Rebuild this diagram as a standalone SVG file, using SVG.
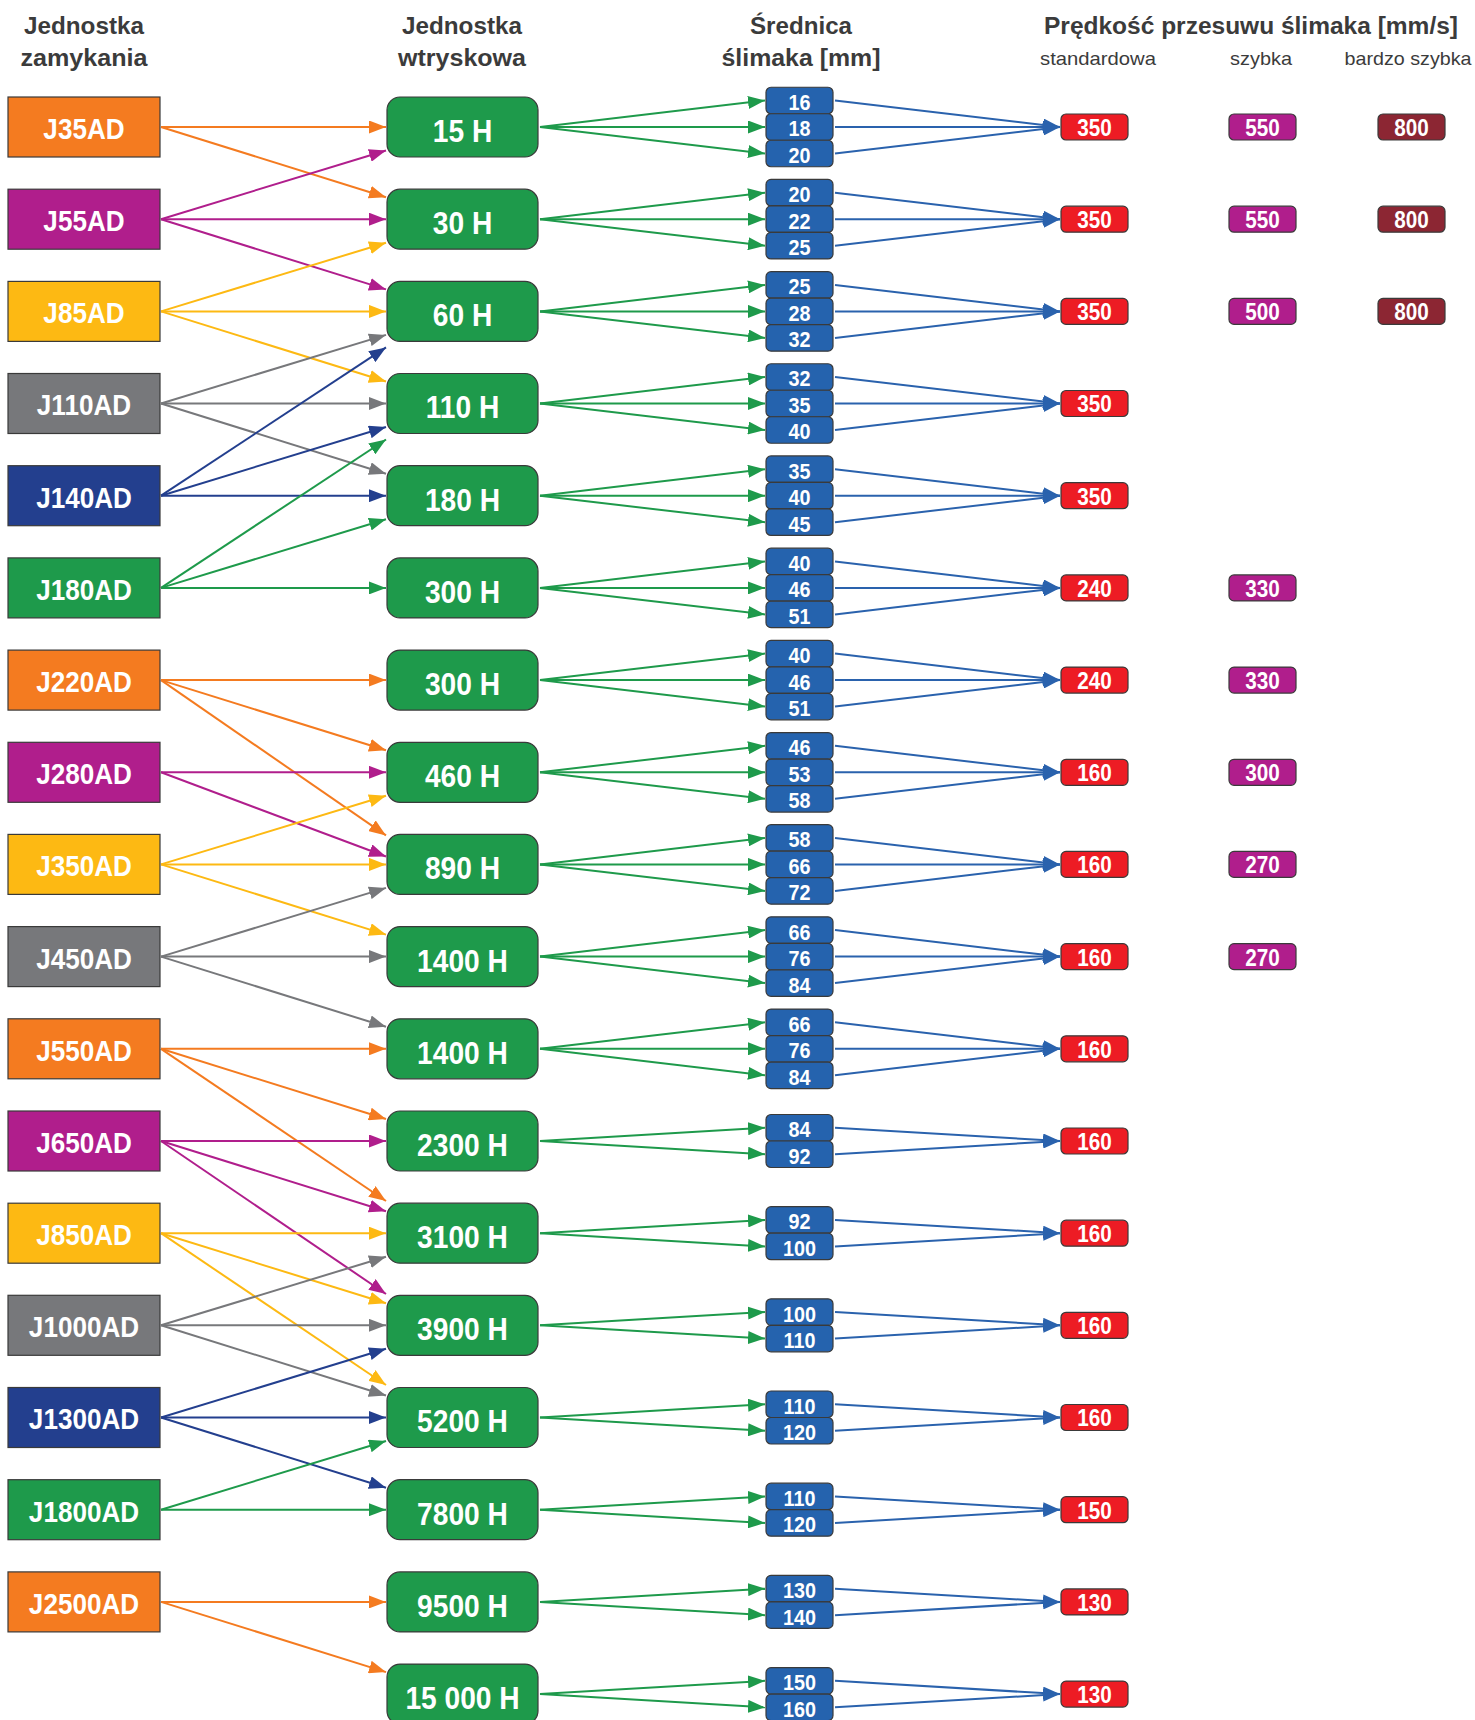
<svg xmlns="http://www.w3.org/2000/svg" width="1475" height="1720" viewBox="0 0 1475 1720">
<style>
.hd{font-family:"Liberation Sans",Arial,sans-serif;font-weight:700;font-size:23px;fill:#3b3b3b;text-anchor:middle}
.sh{font-family:"Liberation Sans",Arial,sans-serif;font-weight:400;font-size:19px;fill:#3b3b3b;text-anchor:middle}
.n text{font-family:"Liberation Sans",Arial,sans-serif;font-weight:700;fill:#fff;text-anchor:middle;transform-box:fill-box;transform-origin:center;transform:scaleX(.9)}
.n rect{stroke:#3a3a3a;stroke-width:1.2}
.ck text{font-size:29px}
.inj rect{fill:#1E9A4B}
.inj text{font-size:32px;transform:scaleX(.88)}
.sc rect{fill:#2563AE}
.sc text{font-size:22px}
.sp text{font-size:23px}
.or{fill:#F47B20}.mg{fill:#B01E8C}.ye{fill:#FDB913}.gy{fill:#77787B}.nv{fill:#233F8E}.gr{fill:#1E9A4B}
.rd{fill:#ED1C24}.pk{fill:#B01E8C}.br{fill:#8C2633}
#connectors line{stroke-width:2;fill:none}
.k-or line{stroke:#F47B20;marker-end:url(#a-or)}
.k-mg line{stroke:#B01E8C;marker-end:url(#a-mg)}
.k-ye line{stroke:#FDB913;marker-end:url(#a-ye)}
.k-gy line{stroke:#77787B;marker-end:url(#a-gy)}
.k-nv line{stroke:#233F8E;marker-end:url(#a-nv)}
.k-gr line{stroke:#1E9A4B;marker-end:url(#a-gr)}
.k-bl line{stroke:#2A62AD;marker-end:url(#a-bl)}
</style>
<defs>
<marker id="a-or" markerUnits="userSpaceOnUse" markerWidth="18" markerHeight="13" viewBox="0 0 18 13" refX="17" refY="6.5" orient="auto"><path d="M0,0 L17,6.5 L0,13 z" fill="#F47B20"/></marker>
<marker id="a-mg" markerUnits="userSpaceOnUse" markerWidth="18" markerHeight="13" viewBox="0 0 18 13" refX="17" refY="6.5" orient="auto"><path d="M0,0 L17,6.5 L0,13 z" fill="#B01E8C"/></marker>
<marker id="a-ye" markerUnits="userSpaceOnUse" markerWidth="18" markerHeight="13" viewBox="0 0 18 13" refX="17" refY="6.5" orient="auto"><path d="M0,0 L17,6.5 L0,13 z" fill="#FDB913"/></marker>
<marker id="a-gy" markerUnits="userSpaceOnUse" markerWidth="18" markerHeight="13" viewBox="0 0 18 13" refX="17" refY="6.5" orient="auto"><path d="M0,0 L17,6.5 L0,13 z" fill="#77787B"/></marker>
<marker id="a-nv" markerUnits="userSpaceOnUse" markerWidth="18" markerHeight="13" viewBox="0 0 18 13" refX="17" refY="6.5" orient="auto"><path d="M0,0 L17,6.5 L0,13 z" fill="#233F8E"/></marker>
<marker id="a-gr" markerUnits="userSpaceOnUse" markerWidth="18" markerHeight="13" viewBox="0 0 18 13" refX="17" refY="6.5" orient="auto"><path d="M0,0 L17,6.5 L0,13 z" fill="#1E9A4B"/></marker>
<marker id="a-bl" markerUnits="userSpaceOnUse" markerWidth="18" markerHeight="13" viewBox="0 0 18 13" refX="17" refY="6.5" orient="auto"><path d="M0,0 L17,6.5 L0,13 z" fill="#2A62AD"/></marker>
</defs>
<rect width="1475" height="1720" fill="#fff"/>

<g id="headers">
<text class="hd" x="84" y="34" textLength="120" lengthAdjust="spacingAndGlyphs">Jednostka</text>
<text class="hd" x="84" y="66" textLength="127" lengthAdjust="spacingAndGlyphs">zamykania</text>
<text class="hd" x="462" y="34" textLength="120" lengthAdjust="spacingAndGlyphs">Jednostka</text>
<text class="hd" x="462" y="66" textLength="128" lengthAdjust="spacingAndGlyphs">wtryskowa</text>
<text class="hd" x="801" y="34" textLength="102" lengthAdjust="spacingAndGlyphs">Średnica</text>
<text class="hd" x="801" y="66" textLength="159" lengthAdjust="spacingAndGlyphs">ślimaka [mm]</text>
<text class="hd" x="1251" y="34" textLength="414" lengthAdjust="spacingAndGlyphs">Prędkość przesuwu ślimaka [mm/s]</text>
<text class="sh" x="1098" y="65" textLength="116" lengthAdjust="spacingAndGlyphs">standardowa</text>
<text class="sh" x="1261" y="65" textLength="62" lengthAdjust="spacingAndGlyphs">szybka</text>
<text class="sh" x="1408" y="65" textLength="127" lengthAdjust="spacingAndGlyphs">bardzo szybka</text>
</g>

<g id="connectors">
<g class="k-or">
<line x1="161" y1="127" x2="386" y2="127"/>
<line x1="161" y1="127" x2="386" y2="197.2"/>
<line x1="161" y1="680.1" x2="386" y2="680.1"/>
<line x1="161" y1="680.1" x2="386" y2="750.3"/>
<line x1="161" y1="680.1" x2="386" y2="835.4"/>
<line x1="161" y1="1048.8" x2="386" y2="1048.8"/>
<line x1="161" y1="1048.8" x2="386" y2="1119"/>
<line x1="161" y1="1048.8" x2="386" y2="1201"/>
<line x1="161" y1="1601.9" x2="386" y2="1601.9"/>
<line x1="161" y1="1601.9" x2="386" y2="1672.1"/>
</g>
<g class="k-mg">
<line x1="161" y1="219.2" x2="386" y2="150.5"/>
<line x1="161" y1="219.2" x2="386" y2="219.2"/>
<line x1="161" y1="219.2" x2="386" y2="289.4"/>
<line x1="161" y1="772.3" x2="386" y2="772.3"/>
<line x1="161" y1="772.3" x2="386" y2="856.5"/>
<line x1="161" y1="1141" x2="386" y2="1141"/>
<line x1="161" y1="1141" x2="386" y2="1211.2"/>
<line x1="161" y1="1141" x2="386" y2="1294"/>
</g>
<g class="k-ye">
<line x1="161" y1="311.4" x2="386" y2="242.7"/>
<line x1="161" y1="311.4" x2="386" y2="311.4"/>
<line x1="161" y1="311.4" x2="386" y2="381.5"/>
<line x1="161" y1="864.4" x2="386" y2="795.8"/>
<line x1="161" y1="864.4" x2="386" y2="864.4"/>
<line x1="161" y1="864.4" x2="386" y2="934.6"/>
<line x1="161" y1="1233.2" x2="386" y2="1233.2"/>
<line x1="161" y1="1233.2" x2="386" y2="1303.3"/>
<line x1="161" y1="1233.2" x2="386" y2="1385"/>
</g>
<g class="k-gy">
<line x1="161" y1="403.5" x2="386" y2="334.9"/>
<line x1="161" y1="403.5" x2="386" y2="403.5"/>
<line x1="161" y1="403.5" x2="386" y2="473.7"/>
<line x1="161" y1="956.6" x2="386" y2="887.9"/>
<line x1="161" y1="956.6" x2="386" y2="956.6"/>
<line x1="161" y1="956.6" x2="386" y2="1026.8"/>
<line x1="161" y1="1325.3" x2="386" y2="1256.7"/>
<line x1="161" y1="1325.3" x2="386" y2="1325.3"/>
<line x1="161" y1="1325.3" x2="386" y2="1395.5"/>
</g>
<g class="k-nv">
<line x1="161" y1="495.7" x2="386" y2="347.4"/>
<line x1="161" y1="495.7" x2="386" y2="427"/>
<line x1="161" y1="495.7" x2="386" y2="495.7"/>
<line x1="161" y1="1417.5" x2="386" y2="1348.8"/>
<line x1="161" y1="1417.5" x2="386" y2="1417.5"/>
<line x1="161" y1="1417.5" x2="386" y2="1487.7"/>
</g>
<g class="k-gr">
<line x1="161" y1="587.9" x2="386" y2="439.5"/>
<line x1="161" y1="587.9" x2="386" y2="519.2"/>
<line x1="161" y1="587.9" x2="386" y2="587.9"/>
<line x1="161" y1="1509.7" x2="386" y2="1441"/>
<line x1="161" y1="1509.7" x2="386" y2="1509.7"/>
<line x1="540" y1="127" x2="765" y2="100.5"/><line x1="540" y1="127" x2="765" y2="127"/><line x1="540" y1="127" x2="765" y2="153.5"/>
<line x1="540" y1="219.2" x2="765" y2="192.7"/><line x1="540" y1="219.2" x2="765" y2="219.2"/><line x1="540" y1="219.2" x2="765" y2="245.7"/>
<line x1="540" y1="311.4" x2="765" y2="284.9"/><line x1="540" y1="311.4" x2="765" y2="311.4"/><line x1="540" y1="311.4" x2="765" y2="337.9"/>
<line x1="540" y1="403.5" x2="765" y2="377"/><line x1="540" y1="403.5" x2="765" y2="403.5"/><line x1="540" y1="403.5" x2="765" y2="430"/>
<line x1="540" y1="495.7" x2="765" y2="469.2"/><line x1="540" y1="495.7" x2="765" y2="495.7"/><line x1="540" y1="495.7" x2="765" y2="522.2"/>
<line x1="540" y1="587.9" x2="765" y2="561.4"/><line x1="540" y1="587.9" x2="765" y2="587.9"/><line x1="540" y1="587.9" x2="765" y2="614.4"/>
<line x1="540" y1="680.1" x2="765" y2="653.6"/><line x1="540" y1="680.1" x2="765" y2="680.1"/><line x1="540" y1="680.1" x2="765" y2="706.6"/>
<line x1="540" y1="772.3" x2="765" y2="745.8"/><line x1="540" y1="772.3" x2="765" y2="772.3"/><line x1="540" y1="772.3" x2="765" y2="798.8"/>
<line x1="540" y1="864.4" x2="765" y2="837.9"/><line x1="540" y1="864.4" x2="765" y2="864.4"/><line x1="540" y1="864.4" x2="765" y2="890.9"/>
<line x1="540" y1="956.6" x2="765" y2="930.1"/><line x1="540" y1="956.6" x2="765" y2="956.6"/><line x1="540" y1="956.6" x2="765" y2="983.1"/>
<line x1="540" y1="1048.8" x2="765" y2="1022.3"/><line x1="540" y1="1048.8" x2="765" y2="1048.8"/><line x1="540" y1="1048.8" x2="765" y2="1075.3"/>
<line x1="540" y1="1141" x2="765" y2="1127.75"/><line x1="540" y1="1141" x2="765" y2="1154.25"/>
<line x1="540" y1="1233.2" x2="765" y2="1219.95"/><line x1="540" y1="1233.2" x2="765" y2="1246.45"/>
<line x1="540" y1="1325.3" x2="765" y2="1312.05"/><line x1="540" y1="1325.3" x2="765" y2="1338.55"/>
<line x1="540" y1="1417.5" x2="765" y2="1404.25"/><line x1="540" y1="1417.5" x2="765" y2="1430.75"/>
<line x1="540" y1="1509.7" x2="765" y2="1496.45"/><line x1="540" y1="1509.7" x2="765" y2="1522.95"/>
<line x1="540" y1="1601.9" x2="765" y2="1588.65"/><line x1="540" y1="1601.9" x2="765" y2="1615.15"/>
<line x1="540" y1="1694.1" x2="765" y2="1680.85"/><line x1="540" y1="1694.1" x2="765" y2="1707.35"/>
</g>
<g class="k-bl">
<line x1="835" y1="100.5" x2="1060" y2="127"/><line x1="835" y1="127" x2="1060" y2="127"/><line x1="835" y1="153.5" x2="1060" y2="127"/>
<line x1="835" y1="192.7" x2="1060" y2="219.2"/><line x1="835" y1="219.2" x2="1060" y2="219.2"/><line x1="835" y1="245.7" x2="1060" y2="219.2"/>
<line x1="835" y1="284.9" x2="1060" y2="311.4"/><line x1="835" y1="311.4" x2="1060" y2="311.4"/><line x1="835" y1="337.9" x2="1060" y2="311.4"/>
<line x1="835" y1="377" x2="1060" y2="403.5"/><line x1="835" y1="403.5" x2="1060" y2="403.5"/><line x1="835" y1="430" x2="1060" y2="403.5"/>
<line x1="835" y1="469.2" x2="1060" y2="495.7"/><line x1="835" y1="495.7" x2="1060" y2="495.7"/><line x1="835" y1="522.2" x2="1060" y2="495.7"/>
<line x1="835" y1="561.4" x2="1060" y2="587.9"/><line x1="835" y1="587.9" x2="1060" y2="587.9"/><line x1="835" y1="614.4" x2="1060" y2="587.9"/>
<line x1="835" y1="653.6" x2="1060" y2="680.1"/><line x1="835" y1="680.1" x2="1060" y2="680.1"/><line x1="835" y1="706.6" x2="1060" y2="680.1"/>
<line x1="835" y1="745.8" x2="1060" y2="772.3"/><line x1="835" y1="772.3" x2="1060" y2="772.3"/><line x1="835" y1="798.8" x2="1060" y2="772.3"/>
<line x1="835" y1="837.9" x2="1060" y2="864.4"/><line x1="835" y1="864.4" x2="1060" y2="864.4"/><line x1="835" y1="890.9" x2="1060" y2="864.4"/>
<line x1="835" y1="930.1" x2="1060" y2="956.6"/><line x1="835" y1="956.6" x2="1060" y2="956.6"/><line x1="835" y1="983.1" x2="1060" y2="956.6"/>
<line x1="835" y1="1022.3" x2="1060" y2="1048.8"/><line x1="835" y1="1048.8" x2="1060" y2="1048.8"/><line x1="835" y1="1075.3" x2="1060" y2="1048.8"/>
<line x1="835" y1="1127.75" x2="1060" y2="1141"/><line x1="835" y1="1154.25" x2="1060" y2="1141"/>
<line x1="835" y1="1219.95" x2="1060" y2="1233.2"/><line x1="835" y1="1246.45" x2="1060" y2="1233.2"/>
<line x1="835" y1="1312.05" x2="1060" y2="1325.3"/><line x1="835" y1="1338.55" x2="1060" y2="1325.3"/>
<line x1="835" y1="1404.25" x2="1060" y2="1417.5"/><line x1="835" y1="1430.75" x2="1060" y2="1417.5"/>
<line x1="835" y1="1496.45" x2="1060" y2="1509.7"/><line x1="835" y1="1522.95" x2="1060" y2="1509.7"/>
<line x1="835" y1="1588.65" x2="1060" y2="1601.9"/><line x1="835" y1="1615.15" x2="1060" y2="1601.9"/>
<line x1="835" y1="1680.85" x2="1060" y2="1694.1"/><line x1="835" y1="1707.35" x2="1060" y2="1694.1"/>
</g>
</g>

<g id="clamping">
<g id="J35AD" class="n ck"><rect class="or" x="8" y="97" width="152" height="60"/><text x="84" y="139">J35AD</text></g>
<g id="J55AD" class="n ck"><rect class="mg" x="8" y="189.2" width="152" height="60"/><text x="84" y="231.2">J55AD</text></g>
<g id="J85AD" class="n ck"><rect class="ye" x="8" y="281.4" width="152" height="60"/><text x="84" y="323.4">J85AD</text></g>
<g id="J110AD" class="n ck"><rect class="gy" x="8" y="373.5" width="152" height="60"/><text x="84" y="415.5">J110AD</text></g>
<g id="J140AD" class="n ck"><rect class="nv" x="8" y="465.7" width="152" height="60"/><text x="84" y="507.7">J140AD</text></g>
<g id="J180AD" class="n ck"><rect class="gr" x="8" y="557.9" width="152" height="60"/><text x="84" y="599.9">J180AD</text></g>
<g id="J220AD" class="n ck"><rect class="or" x="8" y="650.1" width="152" height="60"/><text x="84" y="692.1">J220AD</text></g>
<g id="J280AD" class="n ck"><rect class="mg" x="8" y="742.3" width="152" height="60"/><text x="84" y="784.3">J280AD</text></g>
<g id="J350AD" class="n ck"><rect class="ye" x="8" y="834.4" width="152" height="60"/><text x="84" y="876.4">J350AD</text></g>
<g id="J450AD" class="n ck"><rect class="gy" x="8" y="926.6" width="152" height="60"/><text x="84" y="968.6">J450AD</text></g>
<g id="J550AD" class="n ck"><rect class="or" x="8" y="1018.8" width="152" height="60"/><text x="84" y="1060.8">J550AD</text></g>
<g id="J650AD" class="n ck"><rect class="mg" x="8" y="1111" width="152" height="60"/><text x="84" y="1153">J650AD</text></g>
<g id="J850AD" class="n ck"><rect class="ye" x="8" y="1203.2" width="152" height="60"/><text x="84" y="1245.2">J850AD</text></g>
<g id="J1000AD" class="n ck"><rect class="gy" x="8" y="1295.3" width="152" height="60"/><text x="84" y="1337.3">J1000AD</text></g>
<g id="J1300AD" class="n ck"><rect class="nv" x="8" y="1387.5" width="152" height="60"/><text x="84" y="1429.5">J1300AD</text></g>
<g id="J1800AD" class="n ck"><rect class="gr" x="8" y="1479.7" width="152" height="60"/><text x="84" y="1521.7">J1800AD</text></g>
<g id="J2500AD" class="n ck"><rect class="or" x="8" y="1571.9" width="152" height="60"/><text x="84" y="1613.9">J2500AD</text></g>
</g>

<g id="injection">
<g id="inj-15H" class="n inj"><rect x="387" y="97" width="151" height="60" rx="13"/><text x="462.5" y="142">15 H</text></g>
<g id="inj-30H" class="n inj"><rect x="387" y="189.2" width="151" height="60" rx="13"/><text x="462.5" y="234.2">30 H</text></g>
<g id="inj-60H" class="n inj"><rect x="387" y="281.4" width="151" height="60" rx="13"/><text x="462.5" y="326.4">60 H</text></g>
<g id="inj-110H" class="n inj"><rect x="387" y="373.5" width="151" height="60" rx="13"/><text x="462.5" y="418.5">110 H</text></g>
<g id="inj-180H" class="n inj"><rect x="387" y="465.7" width="151" height="60" rx="13"/><text x="462.5" y="510.7">180 H</text></g>
<g id="inj-300H-a" class="n inj"><rect x="387" y="557.9" width="151" height="60" rx="13"/><text x="462.5" y="602.9">300 H</text></g>
<g id="inj-300H-b" class="n inj"><rect x="387" y="650.1" width="151" height="60" rx="13"/><text x="462.5" y="695.1">300 H</text></g>
<g id="inj-460H" class="n inj"><rect x="387" y="742.3" width="151" height="60" rx="13"/><text x="462.5" y="787.3">460 H</text></g>
<g id="inj-890H" class="n inj"><rect x="387" y="834.4" width="151" height="60" rx="13"/><text x="462.5" y="879.4">890 H</text></g>
<g id="inj-1400H-a" class="n inj"><rect x="387" y="926.6" width="151" height="60" rx="13"/><text x="462.5" y="971.6">1400 H</text></g>
<g id="inj-1400H-b" class="n inj"><rect x="387" y="1018.8" width="151" height="60" rx="13"/><text x="462.5" y="1063.8">1400 H</text></g>
<g id="inj-2300H" class="n inj"><rect x="387" y="1111" width="151" height="60" rx="13"/><text x="462.5" y="1156">2300 H</text></g>
<g id="inj-3100H" class="n inj"><rect x="387" y="1203.2" width="151" height="60" rx="13"/><text x="462.5" y="1248.2">3100 H</text></g>
<g id="inj-3900H" class="n inj"><rect x="387" y="1295.3" width="151" height="60" rx="13"/><text x="462.5" y="1340.3">3900 H</text></g>
<g id="inj-5200H" class="n inj"><rect x="387" y="1387.5" width="151" height="60" rx="13"/><text x="462.5" y="1432.5">5200 H</text></g>
<g id="inj-7800H" class="n inj"><rect x="387" y="1479.7" width="151" height="60" rx="13"/><text x="462.5" y="1524.7">7800 H</text></g>
<g id="inj-9500H" class="n inj"><rect x="387" y="1571.9" width="151" height="60" rx="13"/><text x="462.5" y="1616.9">9500 H</text></g>
<g id="inj-15000H" class="n inj"><rect x="387" y="1664.1" width="151" height="60" rx="13"/><text x="462.5" y="1709.1">15 000 H</text></g>
</g>

<g id="screws">
<g id="s0-16" class="n sc"><rect x="766" y="87.25" width="67" height="26.5" rx="5"/><text x="799.5" y="110">16</text></g>
<g id="s0-18" class="n sc"><rect x="766" y="113.75" width="67" height="26.5" rx="5"/><text x="799.5" y="136.5">18</text></g>
<g id="s0-20" class="n sc"><rect x="766" y="140.25" width="67" height="26.5" rx="5"/><text x="799.5" y="163">20</text></g>
<g id="s1-20" class="n sc"><rect x="766" y="179.45" width="67" height="26.5" rx="5"/><text x="799.5" y="202.2">20</text></g>
<g id="s1-22" class="n sc"><rect x="766" y="205.95" width="67" height="26.5" rx="5"/><text x="799.5" y="228.7">22</text></g>
<g id="s1-25" class="n sc"><rect x="766" y="232.45" width="67" height="26.5" rx="5"/><text x="799.5" y="255.2">25</text></g>
<g id="s2-25" class="n sc"><rect x="766" y="271.65" width="67" height="26.5" rx="5"/><text x="799.5" y="294.4">25</text></g>
<g id="s2-28" class="n sc"><rect x="766" y="298.15" width="67" height="26.5" rx="5"/><text x="799.5" y="320.9">28</text></g>
<g id="s2-32" class="n sc"><rect x="766" y="324.65" width="67" height="26.5" rx="5"/><text x="799.5" y="347.4">32</text></g>
<g id="s3-32" class="n sc"><rect x="766" y="363.75" width="67" height="26.5" rx="5"/><text x="799.5" y="386.5">32</text></g>
<g id="s3-35" class="n sc"><rect x="766" y="390.25" width="67" height="26.5" rx="5"/><text x="799.5" y="413">35</text></g>
<g id="s3-40" class="n sc"><rect x="766" y="416.75" width="67" height="26.5" rx="5"/><text x="799.5" y="439.5">40</text></g>
<g id="s4-35" class="n sc"><rect x="766" y="455.95" width="67" height="26.5" rx="5"/><text x="799.5" y="478.7">35</text></g>
<g id="s4-40" class="n sc"><rect x="766" y="482.45" width="67" height="26.5" rx="5"/><text x="799.5" y="505.2">40</text></g>
<g id="s4-45" class="n sc"><rect x="766" y="508.95" width="67" height="26.5" rx="5"/><text x="799.5" y="531.7">45</text></g>
<g id="s5-40" class="n sc"><rect x="766" y="548.15" width="67" height="26.5" rx="5"/><text x="799.5" y="570.9">40</text></g>
<g id="s5-46" class="n sc"><rect x="766" y="574.65" width="67" height="26.5" rx="5"/><text x="799.5" y="597.4">46</text></g>
<g id="s5-51" class="n sc"><rect x="766" y="601.15" width="67" height="26.5" rx="5"/><text x="799.5" y="623.9">51</text></g>
<g id="s6-40" class="n sc"><rect x="766" y="640.35" width="67" height="26.5" rx="5"/><text x="799.5" y="663.1">40</text></g>
<g id="s6-46" class="n sc"><rect x="766" y="666.85" width="67" height="26.5" rx="5"/><text x="799.5" y="689.6">46</text></g>
<g id="s6-51" class="n sc"><rect x="766" y="693.35" width="67" height="26.5" rx="5"/><text x="799.5" y="716.1">51</text></g>
<g id="s7-46" class="n sc"><rect x="766" y="732.55" width="67" height="26.5" rx="5"/><text x="799.5" y="755.3">46</text></g>
<g id="s7-53" class="n sc"><rect x="766" y="759.05" width="67" height="26.5" rx="5"/><text x="799.5" y="781.8">53</text></g>
<g id="s7-58" class="n sc"><rect x="766" y="785.55" width="67" height="26.5" rx="5"/><text x="799.5" y="808.3">58</text></g>
<g id="s8-58" class="n sc"><rect x="766" y="824.65" width="67" height="26.5" rx="5"/><text x="799.5" y="847.4">58</text></g>
<g id="s8-66" class="n sc"><rect x="766" y="851.15" width="67" height="26.5" rx="5"/><text x="799.5" y="873.9">66</text></g>
<g id="s8-72" class="n sc"><rect x="766" y="877.65" width="67" height="26.5" rx="5"/><text x="799.5" y="900.4">72</text></g>
<g id="s9-66" class="n sc"><rect x="766" y="916.85" width="67" height="26.5" rx="5"/><text x="799.5" y="939.6">66</text></g>
<g id="s9-76" class="n sc"><rect x="766" y="943.35" width="67" height="26.5" rx="5"/><text x="799.5" y="966.1">76</text></g>
<g id="s9-84" class="n sc"><rect x="766" y="969.85" width="67" height="26.5" rx="5"/><text x="799.5" y="992.6">84</text></g>
<g id="s10-66" class="n sc"><rect x="766" y="1009.05" width="67" height="26.5" rx="5"/><text x="799.5" y="1031.8">66</text></g>
<g id="s10-76" class="n sc"><rect x="766" y="1035.55" width="67" height="26.5" rx="5"/><text x="799.5" y="1058.3">76</text></g>
<g id="s10-84" class="n sc"><rect x="766" y="1062.05" width="67" height="26.5" rx="5"/><text x="799.5" y="1084.8">84</text></g>
<g id="s11-84" class="n sc"><rect x="766" y="1114.5" width="67" height="26.5" rx="5"/><text x="799.5" y="1137.25">84</text></g>
<g id="s11-92" class="n sc"><rect x="766" y="1141" width="67" height="26.5" rx="5"/><text x="799.5" y="1163.75">92</text></g>
<g id="s12-92" class="n sc"><rect x="766" y="1206.7" width="67" height="26.5" rx="5"/><text x="799.5" y="1229.45">92</text></g>
<g id="s12-100" class="n sc"><rect x="766" y="1233.2" width="67" height="26.5" rx="5"/><text x="799.5" y="1255.95">100</text></g>
<g id="s13-100" class="n sc"><rect x="766" y="1298.8" width="67" height="26.5" rx="5"/><text x="799.5" y="1321.55">100</text></g>
<g id="s13-110" class="n sc"><rect x="766" y="1325.3" width="67" height="26.5" rx="5"/><text x="799.5" y="1348.05">110</text></g>
<g id="s14-110" class="n sc"><rect x="766" y="1391" width="67" height="26.5" rx="5"/><text x="799.5" y="1413.75">110</text></g>
<g id="s14-120" class="n sc"><rect x="766" y="1417.5" width="67" height="26.5" rx="5"/><text x="799.5" y="1440.25">120</text></g>
<g id="s15-110" class="n sc"><rect x="766" y="1483.2" width="67" height="26.5" rx="5"/><text x="799.5" y="1505.95">110</text></g>
<g id="s15-120" class="n sc"><rect x="766" y="1509.7" width="67" height="26.5" rx="5"/><text x="799.5" y="1532.45">120</text></g>
<g id="s16-130" class="n sc"><rect x="766" y="1575.4" width="67" height="26.5" rx="5"/><text x="799.5" y="1598.15">130</text></g>
<g id="s16-140" class="n sc"><rect x="766" y="1601.9" width="67" height="26.5" rx="5"/><text x="799.5" y="1624.65">140</text></g>
<g id="s17-150" class="n sc"><rect x="766" y="1667.6" width="67" height="26.5" rx="5"/><text x="799.5" y="1690.35">150</text></g>
<g id="s17-160" class="n sc"><rect x="766" y="1694.1" width="67" height="26.5" rx="5"/><text x="799.5" y="1716.85">160</text></g>
</g>

<g id="speeds">
<g id="v0-std" class="n sp"><rect class="rd" x="1061" y="114" width="67" height="26" rx="5"/><text x="1094.5" y="136">350</text></g>
<g id="v0-fast" class="n sp"><rect class="pk" x="1229" y="114" width="67" height="26" rx="5"/><text x="1262.5" y="136">550</text></g>
<g id="v0-vfast" class="n sp"><rect class="br" x="1378" y="114" width="67" height="26" rx="5"/><text x="1411.5" y="136">800</text></g>
<g id="v1-std" class="n sp"><rect class="rd" x="1061" y="206.2" width="67" height="26" rx="5"/><text x="1094.5" y="228.2">350</text></g>
<g id="v1-fast" class="n sp"><rect class="pk" x="1229" y="206.2" width="67" height="26" rx="5"/><text x="1262.5" y="228.2">550</text></g>
<g id="v1-vfast" class="n sp"><rect class="br" x="1378" y="206.2" width="67" height="26" rx="5"/><text x="1411.5" y="228.2">800</text></g>
<g id="v2-std" class="n sp"><rect class="rd" x="1061" y="298.4" width="67" height="26" rx="5"/><text x="1094.5" y="320.4">350</text></g>
<g id="v2-fast" class="n sp"><rect class="pk" x="1229" y="298.4" width="67" height="26" rx="5"/><text x="1262.5" y="320.4">500</text></g>
<g id="v2-vfast" class="n sp"><rect class="br" x="1378" y="298.4" width="67" height="26" rx="5"/><text x="1411.5" y="320.4">800</text></g>
<g id="v3-std" class="n sp"><rect class="rd" x="1061" y="390.5" width="67" height="26" rx="5"/><text x="1094.5" y="412.5">350</text></g>
<g id="v4-std" class="n sp"><rect class="rd" x="1061" y="482.7" width="67" height="26" rx="5"/><text x="1094.5" y="504.7">350</text></g>
<g id="v5-std" class="n sp"><rect class="rd" x="1061" y="574.9" width="67" height="26" rx="5"/><text x="1094.5" y="596.9">240</text></g>
<g id="v5-fast" class="n sp"><rect class="pk" x="1229" y="574.9" width="67" height="26" rx="5"/><text x="1262.5" y="596.9">330</text></g>
<g id="v6-std" class="n sp"><rect class="rd" x="1061" y="667.1" width="67" height="26" rx="5"/><text x="1094.5" y="689.1">240</text></g>
<g id="v6-fast" class="n sp"><rect class="pk" x="1229" y="667.1" width="67" height="26" rx="5"/><text x="1262.5" y="689.1">330</text></g>
<g id="v7-std" class="n sp"><rect class="rd" x="1061" y="759.3" width="67" height="26" rx="5"/><text x="1094.5" y="781.3">160</text></g>
<g id="v7-fast" class="n sp"><rect class="pk" x="1229" y="759.3" width="67" height="26" rx="5"/><text x="1262.5" y="781.3">300</text></g>
<g id="v8-std" class="n sp"><rect class="rd" x="1061" y="851.4" width="67" height="26" rx="5"/><text x="1094.5" y="873.4">160</text></g>
<g id="v8-fast" class="n sp"><rect class="pk" x="1229" y="851.4" width="67" height="26" rx="5"/><text x="1262.5" y="873.4">270</text></g>
<g id="v9-std" class="n sp"><rect class="rd" x="1061" y="943.6" width="67" height="26" rx="5"/><text x="1094.5" y="965.6">160</text></g>
<g id="v9-fast" class="n sp"><rect class="pk" x="1229" y="943.6" width="67" height="26" rx="5"/><text x="1262.5" y="965.6">270</text></g>
<g id="v10-std" class="n sp"><rect class="rd" x="1061" y="1035.8" width="67" height="26" rx="5"/><text x="1094.5" y="1057.8">160</text></g>
<g id="v11-std" class="n sp"><rect class="rd" x="1061" y="1128" width="67" height="26" rx="5"/><text x="1094.5" y="1150">160</text></g>
<g id="v12-std" class="n sp"><rect class="rd" x="1061" y="1220.2" width="67" height="26" rx="5"/><text x="1094.5" y="1242.2">160</text></g>
<g id="v13-std" class="n sp"><rect class="rd" x="1061" y="1312.3" width="67" height="26" rx="5"/><text x="1094.5" y="1334.3">160</text></g>
<g id="v14-std" class="n sp"><rect class="rd" x="1061" y="1404.5" width="67" height="26" rx="5"/><text x="1094.5" y="1426.5">160</text></g>
<g id="v15-std" class="n sp"><rect class="rd" x="1061" y="1496.7" width="67" height="26" rx="5"/><text x="1094.5" y="1518.7">150</text></g>
<g id="v16-std" class="n sp"><rect class="rd" x="1061" y="1588.9" width="67" height="26" rx="5"/><text x="1094.5" y="1610.9">130</text></g>
<g id="v17-std" class="n sp"><rect class="rd" x="1061" y="1681.1" width="67" height="26" rx="5"/><text x="1094.5" y="1703.1">130</text></g>
</g>
</svg>
